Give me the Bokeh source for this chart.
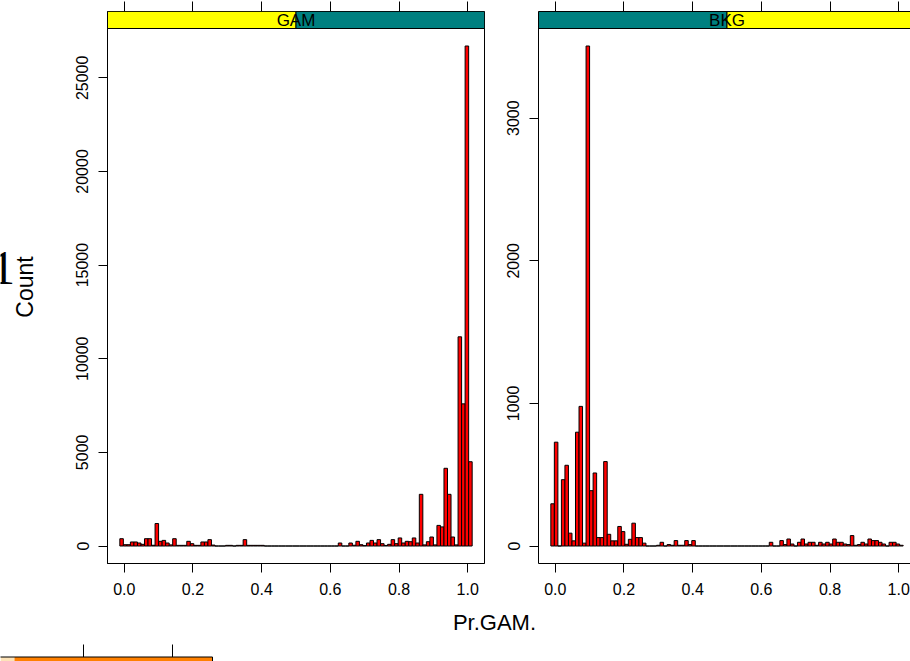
import numpy as np
from bokeh.plotting import figure
from bokeh.models import (Range1d, LinearAxis, FixedTicker, PrintfTickFormatter,
                          BasicTickFormatter)
from bokeh.layouts import row, column
from bokeh.embed import file_html
from bokeh.resources import INLINE
from bokeh.core.properties import value

# ---------------- data ----------------
panel_names = ["GAM", "BKG"]
bin_lo = -0.013
bin_hi = 1.013
n_bins = 100

gam_counts = [390, 70, 70, 215, 215, 160, 90, 390, 390, 40,
              1200, 250, 300, 160, 60, 390, 35, 35, 35, 250,
              125, 35, 35, 215, 215, 340, 50, 0, 0, 0,
              35, 35, 0, 35, 35, 340, 35, 35, 35, 35,
              35, 0, 0, 0, 0, 0, 0, 0, 0, 0,
              0, 0, 0, 0, 0, 0, 0, 0, 0, 0,
              0, 0, 160, 0, 0, 160, 40, 250, 70, 20,
              160, 300, 160, 340, 125, 30, 90, 340, 125, 430,
              160, 250, 230, 430, 160, 2760, 60, 230, 480, 60,
              1100, 1020, 4150, 2760, 480, 60, 11170, 7590, 26700, 4500]

bkg_counts = [296, 728, 0, 465, 566, 90, 36, 798, 979, 20,
              3506, 388, 512, 59, 59, 592, 82, 36, 36, 137,
              101, 12, 47, 160, 59, 59, 20, 0, 0, 0,
              5, 26, 0, 10, 5, 38, 5, 5, 38, 10,
              38, 0, 0, 0, 0, 0, 0, 0, 0, 0,
              0, 0, 0, 0, 0, 0, 0, 0, 0, 0,
              0, 0, 26, 0, 0, 38, 10, 49, 14, 0,
              26, 49, 14, 26, 26, 5, 26, 14, 26, 14,
              49, 26, 26, 14, 10, 73, 5, 10, 26, 14,
              49, 38, 38, 26, 14, 0, 26, 26, 14, 5]

x_ticks = [0.0, 0.2, 0.4, 0.6, 0.8, 1.0]
gam_y_ticks = [0, 5000, 10000, 15000, 20000, 25000]
bkg_y_ticks = [0, 1000, 2000, 3000]
x_label = "Pr.GAM."
y_label = "Count"
slide_number = "1"

# ---------------- style / layout ----------------
FONT = "Liberation Sans"
TICK_FONT = "16px"
PAD = 0.035
PANEL_W = 377
PANEL_H = 535
STRIP_H = 17
TOP_B = 11
ROW_H = 605
SIDE_W = 40
YELLOW = "#ffff00"
TEAL = "#008080"
BAR_RED = "#ff0000"

edges = np.linspace(bin_lo, bin_hi, n_bins + 1)
x0 = bin_lo - PAD * (bin_hi - bin_lo)
x1 = bin_hi + PAD * (bin_hi - bin_lo)
x_per_px = (x1 - x0) / PANEL_W


def style_axis(ax):
    ax.major_tick_in = 0
    ax.major_tick_out = 9
    ax.minor_tick_in = 0
    ax.minor_tick_out = 0
    ax.axis_line_color = "black"
    ax.major_tick_line_color = "black"
    ax.minor_tick_line_color = "black"
    ax.major_label_text_font = FONT
    ax.major_label_text_font_size = TICK_FONT
    ax.major_label_text_color = "black"


def panel(name, counts, yticks, width, b_left, b_right, frame_w, strip_cols,
          top_line):
    ymax = max(counts)
    y0 = -PAD * ymax
    y1 = ymax * (1 + PAD)
    y_per_px = (y1 - y0) / PANEL_H
    ytop = y1 + STRIP_H * y_per_px
    xend = x0 + frame_w * x_per_px
    p = figure(width=width, height=ROW_H, x_range=Range1d(x0, xend),
               y_range=Range1d(y0, ytop), x_axis_type=None, y_axis_type=None,
               output_backend="svg", toolbar_location=None,
               min_border_left=b_left, min_border_right=b_right,
               min_border_top=TOP_B,
               min_border_bottom=ROW_H - TOP_B - STRIP_H - PANEL_H,
               background_fill_color="white", border_fill_color="white")
    p.quad(left=edges[:-1], right=edges[1:], bottom=0, top=counts,
           fill_color=BAR_RED, line_color="black", line_width=1)
    mid = (x0 + x1) / 2
    p.quad(left=[x0, mid], right=[mid, x1], bottom=y1, top=ytop,
           fill_color=strip_cols, line_color="black", line_width=1)
    p.text(x=[mid], y=[(y1 + ytop) / 2], text=[name], text_font=value(FONT),
           text_font_size="17px", text_align="center", text_baseline="middle",
           text_color="black")

    below = LinearAxis(ticker=FixedTicker(ticks=x_ticks),
                       formatter=PrintfTickFormatter(format="%.1f"))
    style_axis(below)
    below.major_label_standoff = 10
    p.add_layout(below, "below")

    # top ticks only (no labels): drawn as "minor" ticks of a label-less axis
    above = LinearAxis(ticker=FixedTicker(ticks=[], minor_ticks=x_ticks))
    style_axis(above)
    above.minor_tick_out = 10
    above.major_label_standoff = 0
    above.axis_line_color = "black" if top_line else None
    p.add_layout(above, "above")

    left = LinearAxis(ticker=FixedTicker(ticks=yticks),
                      formatter=BasicTickFormatter(use_scientific=False))
    style_axis(left)
    left.major_label_orientation = "vertical"
    left.major_label_standoff = 10
    p.add_layout(left, "left")
    return p


# strip at the far left: partly hidden slide number and the y-axis title
ps = figure(width=SIDE_W, height=ROW_H, x_range=Range1d(0, SIDE_W),
            y_range=Range1d(0, ROW_H), x_axis_type=None, y_axis_type=None,
            output_backend="svg", toolbar_location=None, min_border=0,
            outline_line_color=None)
ps.text(x=[-9.5], y=[ROW_H - 281], text=[slide_number],
        text_font=value("Liberation Serif"), text_font_size="48px",
        text_align="left", text_baseline="alphabetic", text_color="black")
ps.text(x=[24], y=[ROW_H - 302], text=[y_label],
        angle=np.pi / 2, text_font=value(FONT), text_font_size="23px",
        text_align="center", text_baseline="middle", text_color="black")

pa = panel(panel_names[0], gam_counts, gam_y_ticks, 498 - SIDE_W, 107 - SIDE_W,
           14, PANEL_W, [YELLOW, TEAL], False)
pa.outline_line_color = "black"

pb = panel(panel_names[1], bkg_counts, bkg_y_ticks, 412, 40, 0, 372,
           [TEAL, YELLOW], True)
pb.outline_line_color = None

# bottom strip: x-axis title and the edge of the next (cut-off) panel
pc = figure(width=910, height=661 - ROW_H, x_range=Range1d(0, 910),
            y_range=Range1d(0, 661 - ROW_H), x_axis_type=None, y_axis_type=None,
            output_backend="svg", toolbar_location=None, min_border=0,
            outline_line_color=None)
pc.text(x=[494], y=[39], text=[x_label], text_font=value(FONT),
        text_font_size="22px", text_align="center", text_baseline="alphabetic",
        text_color="black")
pc.quad(left=[0, 14], right=[14, 212], bottom=[-1, -1], top=[4.5, 4.5],
        fill_color=["#fde3b8", "#ff8000"], line_color=None)
pc.quad(left=[-2], right=[212], bottom=[-2], top=[4.5], fill_color=None,
        line_color="black", line_width=1)
pc.segment(x0=[83, 172], y0=[4.5, 4.5], x1=[83, 172], y1=[17, 17],
           line_color="black", line_width=1)

layout = column(row(ps, pa, pb), pc)
open("out.html", "w").write(file_html(layout, INLINE))
